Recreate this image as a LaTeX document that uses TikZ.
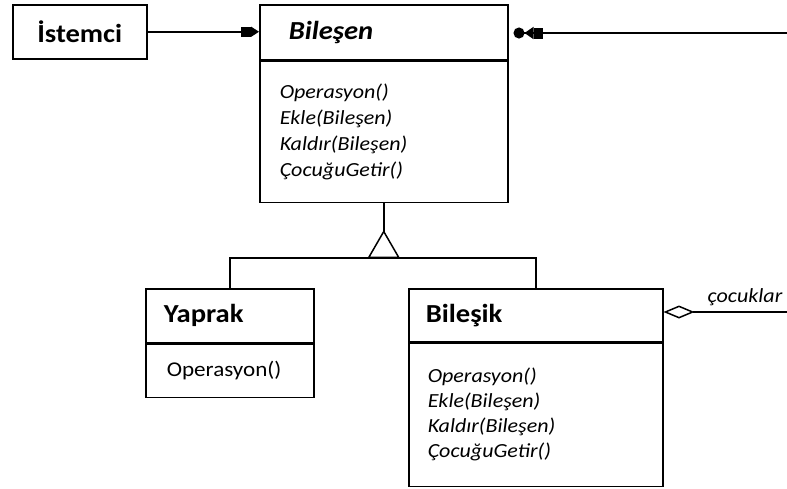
\documentclass[tikz,border=0pt]{standalone}
\usepackage{fontspec}
\setmainfont{Carlito}[FakeStretch=1.1]
\usepackage{tikz}
\usetikzlibrary{positioning, arrows.meta}

\tikzset{
  classhead/.style={draw, line width=1.5pt, inner ysep=0pt, align=left,
                    font=\fontsize{26}{30}\selectfont\bfseries},
  classbody/.style={draw, line width=1.5pt, inner ysep=0pt, align=left,
                    font=\fontsize{20}{25}\selectfont\itshape},
  link/.style={line width=1.5pt}
}

\begin{document}
\begin{tikzpicture}[x=1pt, y=-1pt]
  \useasboundingbox (0,0) rectangle (787,488);

  % client
  \node[classhead, anchor=north west, align=center, minimum width=134pt,
        minimum height=54pt, inner xsep=0pt] (istemci) at (12,4) {İstemci};

  % component
  \node[classhead, anchor=north west, text width=190pt, inner xsep=29pt,
        minimum height=55pt] (bilesenhead) at (259,4) {\itshape Bileşen};
  \node[classbody, below=0pt of bilesenhead, text width=208pt, inner xsep=20pt,
        minimum height=141pt, font=\fontsize{20}{26}\selectfont\itshape] (bilesenbody)
        {Operasyon()\\Ekle(Bileşen)\\Kaldır(Bileşen)\\ÇocuğuGetir()\\[-4pt]};

  % leaf
  \node[classhead, anchor=north west, text width=132pt, inner xsep=18pt,
        minimum height=54pt] (yaprakhead) at (145,288) {Yaprak};
  \node[classbody, below=0pt of yaprakhead, text width=126pt, inner xsep=21pt,
        minimum height=53pt, font=\fontsize{21}{25}\selectfont\upshape] (yaprakbody)
        {Operasyon()};

  % composite
  \node[classhead, anchor=north west, text width=220pt, inner xsep=17pt,
        minimum height=53pt] (bilesikhead) at (408,288) {Bileşik};
  \node[classbody, below=0pt of bilesikhead, text width=216pt, inner xsep=19pt,
        minimum height=143pt] (bilesikbody)
        {Operasyon()\\Ekle(Bileşen)\\Kaldır(Bileşen)\\ÇocuğuGetir()};

  \coordinate (joint) at (bilesenbody.south |- 0,258);
  \coordinate (rightend) at (787,33);
  \coordinate (childend) at (787,312);

  % connectors
  \draw[link, -{Square[length=10pt,width=10pt] Triangle[length=8pt,width=10pt]}]
    (istemci.east) -- (bilesenhead.west |- istemci.east);
  \draw[link, {Circle[length=11pt,sep=5pt] Triangle[length=9pt,width=12pt] Square[length=9pt,width=11pt]}-]
    (bilesenhead.east |- rightend) -- (rightend);
  \draw[link, -{Triangle[open, reversed, length=28pt, width=32pt]}]
    (bilesenbody.south) -- (joint);
  \draw[link] (yaprakhead.north) |- (joint) -| (bilesikhead.north);
  \draw[link, {Diamond[open, length=31pt, width=13pt]}-]
    (bilesikhead.east |- childend) -- (childend)
    node[pos=0.66, above=2pt, font=\fontsize{20}{22}\selectfont\itshape] (label) {çocuklar};
\end{tikzpicture}
\end{document}
